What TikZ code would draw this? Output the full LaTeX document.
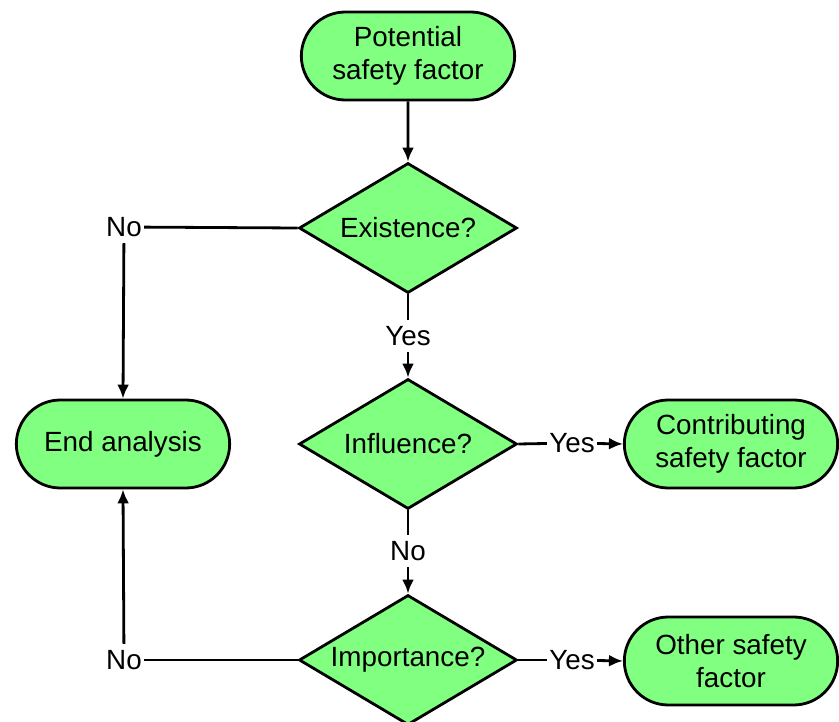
\documentclass[tikz,border=0pt]{standalone}
\usepackage{fontspec}
\setmainfont{Liberation Sans}
\usetikzlibrary{shapes.geometric,shapes.misc,arrows.meta}
\definecolor{boxgreen}{RGB}{128,255,128}

\begin{document}
\begin{tikzpicture}
[x=1pt,y=-1pt,line width=2.8pt,>={Latex[length=14pt,width=12pt]},
 every node/.style={font=\fontsize{27.8}{32.5}\selectfont,align=center},
 term/.style={rounded rectangle,draw,fill=boxgreen,minimum width=220pt,minimum height=88pt},
 test/.style={diamond,draw,fill=boxgreen,aspect=1.68,minimum width=218pt,minimum height=130pt,inner sep=0pt},
 lbl/.style={inner xsep=1pt,inner ysep=5pt}]

  \useasboundingbox (0,0) rectangle (839,722);

  \node[term] (n1) at (408,56) {Potential\\safety factor};
  \node[test] (n2) at (408,228) {Existence?};
  \node[test] (n3) at (408,444) {Influence?};
  \node[test] (n6) at (408,660) {Importance?};
  \node[term] (n4) at (123,444) {End analysis};
  \node[term] (n5) at (731,444) {Contributing\\safety factor};
  \node[term] (n7) at (731,661) {Other safety\\factor};

  \node[lbl] (y1) at (408,336) {Yes};
  \node[lbl] (y2) at (572,443) {Yes};
  \node[lbl] (y3) at (572,660) {Yes};
  \node[lbl] (no1) at (124,227) {No};
  \node[lbl] (no2) at (408,551) {No};
  \node[lbl] (no3) at (124,660) {No};

  \draw[->] (n1) -- (n2);
  \foreach \from/\to in {n2.south/y1, n3.south/no2, n3.east/y2, n6.east/y3, n2.west/no1, n6.west/no3}
    \draw (\from) -- (\to);
  \foreach \from/\to in {y1/n3.north, no2/n6.north, y2/n5.west, y3/n7.west, no1/n4.north, no3/n4.south}
    \draw[->] (\from) -- (\to);

\end{tikzpicture}
\end{document}
